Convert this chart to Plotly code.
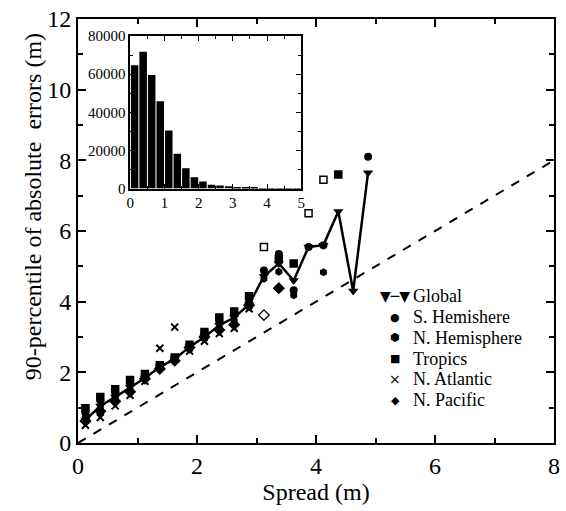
import plotly.graph_objects as go

# ---- data ----
spread = [0.125, 0.375, 0.625, 0.875, 1.125, 1.375, 1.625, 1.875, 2.125, 2.375,
          2.625, 2.875, 3.125, 3.375, 3.625, 3.875, 4.125, 4.375, 4.625, 4.875]
global_p90 = [0.65, 1.05, 1.30, 1.58, 1.84, 2.15, 2.38, 2.72, 3.00, 3.33,
              3.55, 3.92, 4.72, 5.08, 4.60, 5.55, 5.60, 6.55, 4.30, 7.65]
s_hemi = [0.85, 1.20, 1.42, 1.70, 1.90, 2.17, 2.40, 2.75, 3.10, 3.45,
          3.65, 4.05, 4.88, 5.35, 4.32, 5.55, 5.60, None, None, 8.10]
n_hemi = [0.72, 0.98, 1.25, 1.50, 1.80, 2.12, 2.35, 2.65, 2.95, 3.25,
          3.45, 3.85, 4.65, 4.85, 4.18, None, 4.83, None, None, None]
tropics = [0.98, 1.30, 1.52, 1.78, 1.95, 2.20, 2.42, 2.78, 3.14, 3.55,
           3.72, 4.15, 5.55, 5.20, 5.08, 6.50, 7.45, 7.60, None, None]
n_atlantic = [0.50, 0.72, 1.05, 1.35, 1.75, 2.68, 3.28, 2.60, 2.88, 3.10,
              3.25, 3.80, None, None, None, None, None, None, None, None]
n_pacific = [0.62, 0.90, 1.18, 1.45, 1.82, 2.10, 2.33, 2.70, 3.00, 3.20,
             3.35, 3.90, 3.62, 4.38, None, None, None, None, None, None]
diag_x = [0, 8]
diag_y = [0, 8]

hist_x = [0.125, 0.375, 0.625, 0.875, 1.125, 1.375, 1.625, 1.875, 2.125, 2.375,
          2.625, 2.875, 3.125, 3.375, 3.625, 3.875, 4.125, 4.375, 4.625, 4.875]
hist_counts = [64600, 71700, 59500, 45800, 30500, 18300, 10700, 6000, 3700, 2000,
               1600, 1200, 900, 600, 400, 300, 200, 150, 100, 80]

main_xticks = [0, 2, 4, 6, 8]
main_yticks = [0, 2, 4, 6, 8, 10, 12]
inset_xticks = [0, 1, 2, 3, 4, 5]
inset_yticks = [0, 20000, 40000, 60000, 80000]

legend_labels = ["Global", "S. Hemishere", "N. Hemisphere", "Tropics", "N. Atlantic", "N. Pacific"]
legend_keys = ["▼─▼", "●", "⬢", "■", "×", "◆"]

# ---- styling ----
FONT = "Liberation Serif"
W, H = 566, 511
ML, MR, MT, MB = 78, 6, 18, 68
PW, PH = W - ML - MR, H - MT - MB


def px_x(p):
    return (p - ML) / PW


def px_y(p):
    return (MT + PH - p) / PH


tropics_symbols = ["square"] * len(tropics)
for i in (12, 15, 16):
    tropics_symbols[i] = "square-open"
pacific_symbols = ["diamond"] * len(n_pacific)
pacific_symbols[12] = "diamond-open"

fig = go.Figure()
fig.add_trace(go.Scatter(x=diag_x, y=diag_y, mode="lines",
                         line=dict(color="black", width=2, dash="dash"), showlegend=False))
fig.add_trace(go.Scatter(x=spread, y=n_atlantic, mode="markers", name="N. Atlantic",
                         marker=dict(symbol="x-thin", size=7, color="black",
                                     line=dict(width=2, color="black"))))
fig.add_trace(go.Scatter(x=spread, y=n_pacific, mode="markers", name="N. Pacific",
                         marker=dict(symbol=pacific_symbols, size=8, color="black",
                                     line=dict(width=1.3, color="black"))))
fig.add_trace(go.Scatter(x=spread, y=tropics, mode="markers", name="Tropics",
                         marker=dict(symbol=tropics_symbols, size=7, color="black",
                                     line=dict(width=1.5, color="black"))))
fig.add_trace(go.Scatter(x=spread, y=n_hemi, mode="markers", name="N. Hemisphere",
                         marker=dict(symbol="hexagon", size=8, color="black")))
fig.add_trace(go.Scatter(x=spread, y=s_hemi, mode="markers", name="S. Hemishere",
                         marker=dict(symbol="circle", size=8, color="black")))
fig.add_trace(go.Scatter(x=spread, y=global_p90, mode="lines+markers", name="Global",
                         line=dict(color="black", width=2.5),
                         marker=dict(symbol="triangle-down", size=9, color="black")))

fig.add_trace(go.Bar(x=hist_x, y=hist_counts, xaxis="x2", yaxis="y2",
                     marker=dict(color="black", line=dict(width=0)), width=0.22,
                     showlegend=False))

axis_common = dict(showgrid=False, zeroline=False, showline=True, linecolor="black",
                   linewidth=2, mirror="ticks", ticks="inside", tickcolor="black",
                   tickwidth=1.5)
inset_common = {**axis_common, "linewidth": 1.5, "tickwidth": 1}
fig.update_layout(
    width=W, height=H,
    margin=dict(l=ML, r=MR, t=MT, b=MB),
    paper_bgcolor="white", plot_bgcolor="white",
    showlegend=False,
    font=dict(family=FONT, color="black"),
    xaxis=dict(range=[0, 8], tickvals=main_xticks, ticklen=8,
               minor=dict(dtick=1, ticklen=5, ticks="inside", tickcolor="black"),
               title=dict(text="Spread (m)", font=dict(size=24), standoff=2),
               tickfont=dict(size=24), domain=[0, 1], **axis_common),
    yaxis=dict(range=[0, 12], tickvals=main_yticks, ticklen=8,
               minor=dict(dtick=1, ticklen=5, ticks="inside", tickcolor="black"),
               tickfont=dict(size=24), domain=[0, 1], **axis_common),
    xaxis2=dict(range=[0, 5], tickvals=inset_xticks, ticklen=5,
                minor=dict(dtick=0.5, ticklen=3, ticks="inside", tickcolor="black"),
                tickfont=dict(size=15), anchor="y2",
                domain=[px_x(131), px_x(304)], **inset_common),
    yaxis2=dict(range=[0, 80000], tickvals=inset_yticks, tickformat="d", ticklen=5,
                minor=dict(dtick=10000, ticklen=3, ticks="inside", tickcolor="black"),
                tickfont=dict(size=15), anchor="x2",
                domain=[px_y(188), px_y(35)], **inset_common),
    bargap=0.1,
)

# y-axis title
fig.add_annotation(x=px_x(32), y=px_y(206), xref="paper", yref="paper",
                   text="90-percentile of absolute  errors (m)", textangle=-90,
                   showarrow=False, xanchor="center", yanchor="middle",
                   font=dict(size=24, family=FONT))

# legend built from text annotations
row_y0, row_dy = 296, 20.8
for i, (lab, key) in enumerate(zip(legend_labels, legend_keys)):
    ypix = row_y0 + row_dy * i
    fig.add_annotation(x=px_x(415), y=px_y(ypix), xref="paper", yref="paper",
                       text=lab, showarrow=False, xanchor="left", yanchor="middle",
                       font=dict(size=18, family=FONT))
    fig.add_annotation(x=px_x(399), y=px_y(ypix), xref="paper", yref="paper",
                       text=key, showarrow=False, xanchor="center", yanchor="middle",
                       font=dict(size=11 if key not in ("×", "▼─▼") else 14, family="DejaVu Sans"))

fig.write_html("out.html")
